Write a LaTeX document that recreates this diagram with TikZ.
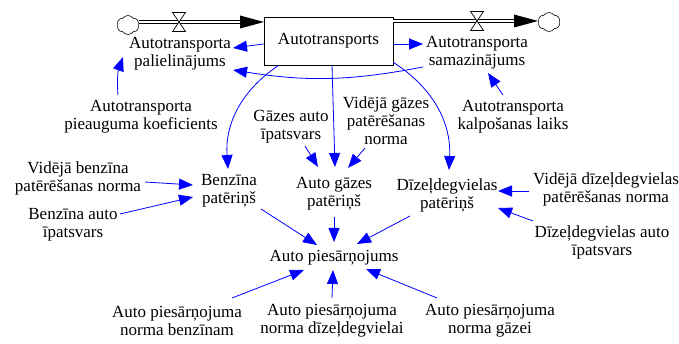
\documentclass[tikz,border=0pt]{standalone}
\usepackage{fontspec}
\setmainfont{Liberation Serif}
\newfontfamily\diagfont{Liberation Serif}
\usetikzlibrary{arrows.meta,calc,shapes.symbols}
\begin{document}
\begin{tikzpicture}[x=1pt, y=1pt,
    var/.style = {align=center, inner sep=0pt, font=\diagfont\fontsize{17}{18}\selectfont},
    link/.style = {blue, line width=0.8pt, -{Triangle[length=14pt, width=11pt]}},
    pipe/.style = {double, double distance=2.5pt, line width=0.9pt},
    valve/.style = {draw, fill=white, line width=0.7pt},
    cloudy/.style = {cloud, cloud puffs=6, cloud puff arc=110, draw, line width=0.6pt, minimum width=22pt, minimum height=19pt, inner sep=0pt}]
    \useasboundingbox (0,0) rectangle (679,-344);
    % stock and flows
    \node at (328.5,-41) [draw, line width=0.9pt, minimum width=129pt, minimum height=48pt, inner sep=0pt, font=\diagfont\fontsize{17}{18}\selectfont] (box) {Autotransports};
    \node at (128,-25) [cloudy] (srcL) {};
    \node at (549,-22) [cloudy] (sinkR) {};
    \coordinate (inL) at (264,-22);
    \coordinate (outR) at (538,-21);
    \draw[pipe] (srcL.east |- inL) -- ($(inL)+(-24,0)$);
    \fill (inL) -- ++(-24,6.5) -- ++(0,-13) -- cycle;
    \draw[pipe] (box.east |- outR) -- ($(outR)+(-24,0)$);
    \fill (outR) -- ++(-24,6.5) -- ++(0,-13) -- cycle;
    \draw[valve] (179,-22) +(-6.5,9.5) -- +(6.5,9.5) -- +(-6.5,-9.5) -- +(6.5,-9.5) -- cycle;
    \draw[valve] (477,-21) +(-6.5,9.5) -- +(6.5,9.5) -- +(-6.5,-9.5) -- +(6.5,-9.5) -- cycle;
    % variables
    \node at (180,-54) [var] (pal) {Autotransporta\\palielinājums};
    \node at (477,-53) [var] (sam) {Autotransporta\\samazinājums};
    \node at (141,-117) [var] (kpk) {Autotransporta\\pieauguma koeficients};
    \node at (513,-117) [var] (kl) {Autotransporta\\kalpošanas laiks};
    \node at (291,-127) [var] (gai) {Gāzes auto\\īpatsvars};
    \node at (386,-121) [var] (vgn) {Vidējā gāzes\\patērēšanas\\norma};
    \node at (229,-191) [var] (bp) {Benzīna\\patēriņš};
    \node at (334,-194) [var] (agp) {Auto gāzes\\patēriņš};
    \node at (447,-195) [var] (dp) {Dīzeļdegvielas\\patēriņš};
    \node at (78,-178) [var] (vbn) {Vidējā benzīna\\patērēšanas norma};
    \node at (73,-225) [var] (bai) {Benzīna auto\\īpatsvars};
    \node at (606,-189) [var] (vdn) {Vidējā dīzeļdegvielas\\patērēšanas norma};
    \node at (602,-242) [var] (dai) {Dīzeļdegvielas auto\\īpatsvars};
    \node at (334,-258) [var] (ap) {Auto piesārņojums};
    \node at (177,-321) [var] (nb) {Auto piesārņojuma\\norma benzīnam};
    \node at (332,-321) [var] (nd) {Auto piesārņojuma\\norma dīzeļdegvielai};
    \node at (490,-321) [var] (ng) {Auto piesārņojuma\\norma gāzei};
    % links
    \draw[link] ($(box.west)+(0,-3)$) -- ($(pal)+(53,6)$);
    \draw[link] ($(box.east)+(0,-3)$) -- ($(sam)+(-54,9)$);
    \draw[link] ($(sam)+(-54,-14)$) to[bend left=10] ($(pal)+(53,-16)$);
    \draw[link] ($(kpk)+(-23,22)$) to[bend left=12] ($(pal)+(-57,-3)$);
    \draw[link] ($(kl)+(-10,22)$) -- ($(sam)+(11,-20)$);
    \draw[link] ($(box.south)+(-50,0)$) to[bend right=30] ($(bp)+(-1,22)$);
    \draw[link] ($(box.south)+(3.5,0)$) -- ($(agp)+(1,27)$);
    \draw[link] ($(box.south east)+(0,3)$) to[bend left=30] ($(dp)+(2,25)$);
    \draw[link] ($(gai)+(14,-19)$) -- ($(agp)+(-16,27)$);
    \draw[link] ($(vgn)+(-21,-27)$) -- ($(agp)+(14,26)$);
    \draw[link] ($(vbn)+(67,-4)$) -- ($(bp)+(-36,6)$);
    \draw[link] ($(bai)+(47,11)$) -- ($(bp)+(-36,-6)$);
    \draw[link] ($(vdn)+(-77,-2)$) -- ($(dp)+(51,4)$);
    \draw[link] ($(dai)+(-69,21)$) -- ($(dp)+(51,-13)$);
    \draw[link] ($(bp)+(32,-18)$) -- ($(ap)+(-17,13)$);
    \draw[link] ($(agp)+(0,-23)$) -- ($(ap)+(0,16)$);
    \draw[link] ($(dp)+(-37,-21)$) -- ($(ap)+(23,14)$);
    \draw[link] ($(nb)+(55,23)$) -- ($(ap)+(-30,-12)$);
    \draw[link] ($(nd)+(0,23)$) -- ($(ap)+(-1,-12)$);
    \draw[link] ($(ng)+(-53,23)$) -- ($(ap)+(32,-11)$);
\end{tikzpicture}
\end{document}
